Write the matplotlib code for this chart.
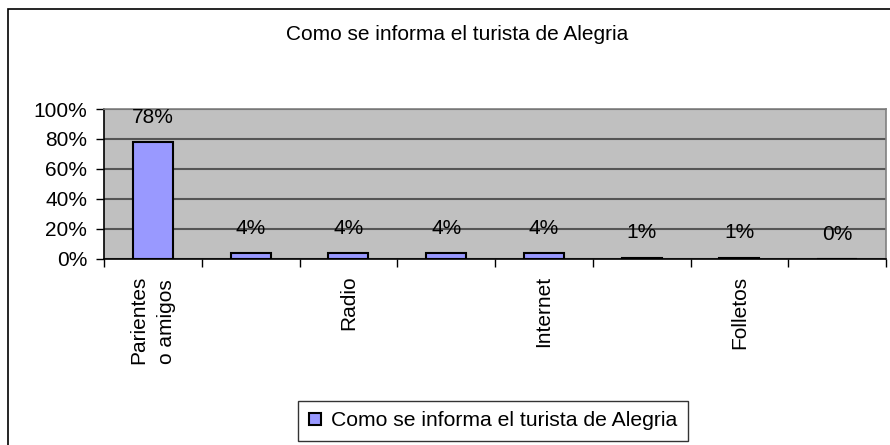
import matplotlib
matplotlib.use("Agg")
import matplotlib.pyplot as plt
from matplotlib.patches import Rectangle
from matplotlib.ticker import FixedLocator, NullFormatter, FixedFormatter

plt.rcParams['font.family'] = ['Liberation Sans', 'DejaVu Sans']

title = "Como se informa el turista de Alegria"
categories = ["Parientes\no amigos", "", "Radio", "", "Internet", "", "Folletos", ""]
values = [78, 4, 4, 4, 4, 1, 1, 0]
y_ticks = [0, 20, 40, 60, 80, 100]
y_labels = ["0%", "20%", "40%", "60%", "80%", "100%"]

W, H = 890, 445
fig = plt.figure(figsize=(W / 100, H / 100), dpi=100)
fig.patch.set_facecolor("white")

# outer border (right and bottom edges lie outside the picture)
fig.add_artist(Rectangle((8 / W, -10 / H), (W + 10 - 8) / W, (H + 10 - 9) / H,
                         transform=fig.transFigure, fill=False, edgecolor="black",
                         lw=1.2, clip_on=False))

ax = fig.add_axes([104 / W, 1 - 259 / H, (886 - 104) / W, (259 - 109) / H])
ax.set_facecolor("#C0C0C0")

n = len(values)
x = [i + 0.5 for i in range(n)]
bars = ax.bar(x, values, width=0.41, color="#9999FF", edgecolor="black", lw=1.5,
              label=title, zorder=3)
for xi, v in zip(x, values):
    ax.annotate(f"{v}%", (xi, v), xytext=(0, 11), textcoords="offset points",
                ha="center", va="bottom", fontsize=15, color="black", zorder=4)

ax.set_xlim(0, n)
ax.set_ylim(0, 100)
ax.yaxis.set_major_locator(FixedLocator(y_ticks))
ax.yaxis.set_major_formatter(FixedFormatter(y_labels))
ax.grid(axis="y", color="#555555", lw=1.5, zorder=1)
ax.set_axisbelow(True)

ax.xaxis.set_major_locator(FixedLocator(list(range(n + 1))))
ax.xaxis.set_major_formatter(NullFormatter())
ax.xaxis.set_minor_locator(FixedLocator(x))
ax.xaxis.set_minor_formatter(FixedFormatter(categories))
ax.tick_params(axis="x", which="minor", length=0, pad=12, labelsize=15, labelrotation=90)
ax.tick_params(axis="x", which="major", length=6, width=1, direction="out")
ax.tick_params(axis="y", length=6, width=1, direction="out", labelsize=15, pad=6)
for lab in ax.xaxis.get_minorticklabels():
    lab.set_va("top")
    lab.set_ha("center")
    lab.set_multialignment("left")
    lab.set_linespacing(1.55)

ax.spines["left"].set_color("black")
ax.spines["bottom"].set_color("black")
ax.spines["top"].set_color("#808080")
ax.spines["right"].set_color("#808080")
for s in ax.spines.values():
    s.set_linewidth(1.2)

fig.text(457 / W, 1 - 35 / H, title, ha="center", va="center", fontsize=15)

leg = fig.legend(handles=[bars], labels=[title], loc="center",
                 bbox_to_anchor=(493 / W, 1 - 421 / H), fontsize=15.2,
                 frameon=True, fancybox=False, edgecolor="black",
                 handlelength=0.55, handleheight=0.55, handletextpad=0.48,
                 borderpad=0.5, borderaxespad=0)
leg.get_frame().set_linewidth(1.0)

fig.savefig("out.png", dpi=100)
